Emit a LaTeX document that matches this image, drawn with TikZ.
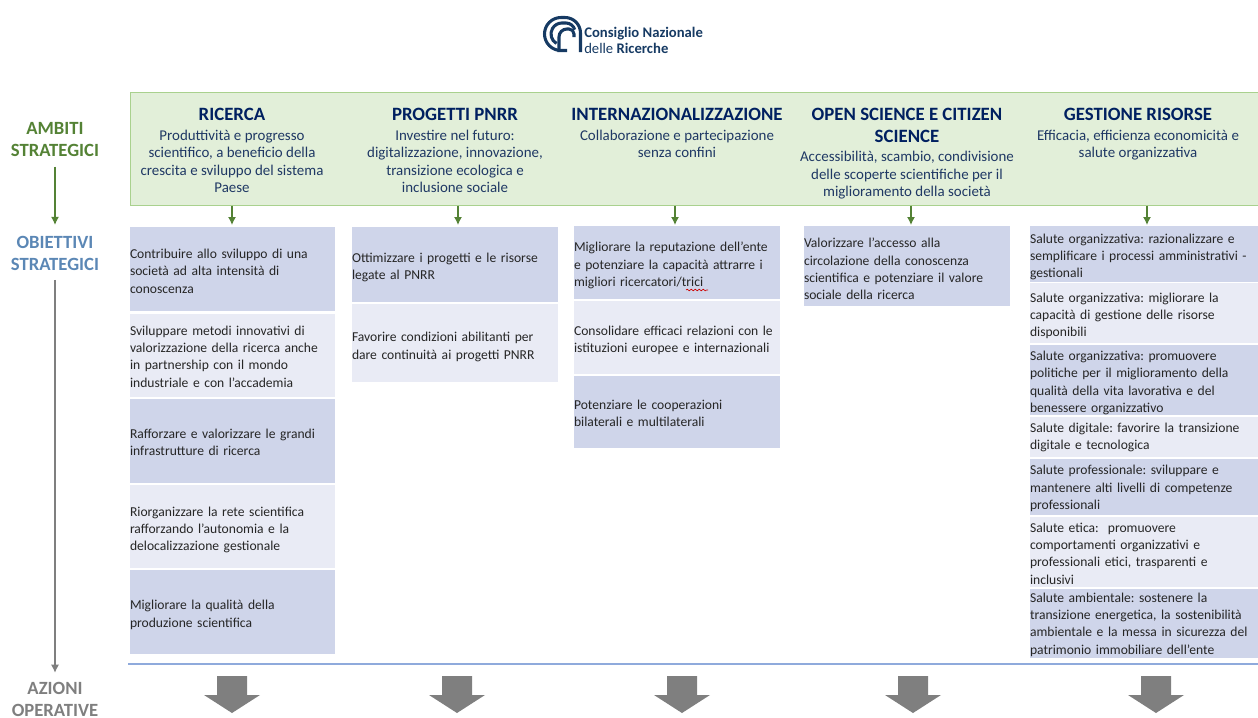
\documentclass[tikz,border=0pt]{standalone}
\usepackage{fontspec}
\setmainfont{Carlito}
\usetikzlibrary{decorations.pathmorphing,arrows.meta}
\definecolor{hdrfill}{HTML}{E2EFD9}
\definecolor{hdrline}{HTML}{A9D18E}
\definecolor{darkcell}{HTML}{CFD5EA}
\definecolor{lightcell}{HTML}{E9EBF5}
\definecolor{navy}{HTML}{002060}
\definecolor{subnavy}{HTML}{1F3864}
\definecolor{cnr}{HTML}{163A63}
\definecolor{gr}{HTML}{548235}
\definecolor{bl}{HTML}{5B87B5}
\definecolor{gy}{HTML}{7F7F7F}
\definecolor{rulecol}{HTML}{8FAADC}
\definecolor{celltext}{HTML}{262626}
\colorlet{dcellc}{darkcell}
\colorlet{lcellc}{lightcell}
\frenchspacing
\tikzset{
  x=0.75pt,y=-0.75pt,
  cell/.style={anchor=north west,inner xsep=0pt,inner ysep=0pt,outer sep=0pt,align=left,
     text=celltext,font=\fontsize{10.2}{13}\selectfont},
  head/.style={anchor=north,inner sep=0pt,align=center,text=subnavy,font=\fontsize{11.2}{13.2}\selectfont},
  side/.style={inner sep=0pt,align=center,font=\fontsize{14}{16.5}\selectfont\bfseries},
  garrow/.style={draw=gr,line width=0.9pt,-{Latex[length=6pt,width=6pt]}},
  gyarrow/.style={draw=gy,line width=0.8pt,-{Latex[length=6pt,width=6pt]}},
  bigarrow/.style={fill=gy,draw=none},
  logoarc/.style={draw=cnr,line width=2.3pt},
}
\newcommand{\ttl}[1]{{\fontsize{14.1}{13.2}\selectfont\bfseries\color{navy}#1}}
% box: text shift, name, tone, x0, y0, x1, y1, text
\newcommand{\cellbox}[8][2]{%
  \path[fill=#3cellc] (#4,#5) rectangle (#6,#7);
  \node[cell,text width=(#6-#4)*0.75pt] (#2) at (#4,{(#5+#7)/2+#1}) [anchor=west] {#8};}
\begin{document}
\begin{tikzpicture}
\useasboundingbox (0,0) rectangle (1258,718);
% logo
\draw[logoarc] (580.5,52) -- (580.5,33) arc[start angle=0,end angle=-90,radius=15.5] -- (561,17.5) arc[start angle=270,end angle=90,radius=16.5] -- (567,50.5);
\draw[logoarc] (556.5,43.5) arc[start angle=120,end angle=270,radius=11] -- (566,23) arc[start angle=270,end angle=345,radius=9];
\draw[logoarc] (559,52) -- (559,37) arc[start angle=180,end angle=270,radius=8] -- (569,29) arc[start angle=270,end angle=360,radius=5] -- (574,37);
\node[anchor=west,inner sep=0pt,align=left,text=cnr,font=\fontsize{11}{11.4}\selectfont] (logotext) at (584,40.5)
  {\textbf{Consiglio Nazionale}\\delle \textbf{Ricerche}};
% header band
\node[draw=hdrline,fill=hdrfill,line width=1pt,anchor=north west,inner sep=0pt,minimum width=1128*0.75pt,minimum height=113*0.75pt] (hdr) at (130,92) {};
\node[head] (h1) at (232,108) {\ttl{RICERCA}\\[1.5pt]Produttività e progresso\\scientifico, a beneficio della\\crescita e sviluppo del sistema\\Paese};
\node[head] (h2) at (455,108) {\ttl{PROGETTI PNRR}\\[1.5pt]Investire nel futuro:\\digitalizzazione, innovazione,\\transizione ecologica e\\inclusione sociale};
\node[head] (h3) at (677,108) {\ttl{INTERNAZIONALIZZAZIONE}\\[1.5pt]Collaborazione e partecipazione\\senza confini};
\node[head] (h4) at (907,108) {\ttl{OPEN SCIENCE E CITIZEN}\\[3pt]\ttl{SCIENCE}\\[1.5pt]Accessibilità, scambio, condivisione\\delle scoperte scientifiche per il\\miglioramento della società};
\node[head] (h5) at (1138,108) {\ttl{GESTIONE RISORSE}\\[1.5pt]Efficacia, efficienza economicità e\\salute organizzativa};
% side labels
\node[side,text=gr] (ambiti) at (55,140) {AMBITI\\STRATEGICI};
\node[side,text=bl] (obiettivi) at (55,253) {OBIETTIVI\\STRATEGICI};
\node[side,text=gy] (azioni) at (55,699.5) {AZIONI\\OPERATIVE};
\draw[garrow] ([yshift=-7pt]ambiti.south) -- ([yshift=8pt]obiettivi.north);
\draw[gyarrow] ([yshift=-7pt]obiettivi.south) -- ([yshift=7pt]azioni.north);
% column 1
\cellbox{a1}{d}{130}{227}{335}{311}{Contribuire allo sviluppo di una\\società ad alta intensità di\\conoscenza}
\cellbox[1]{a2}{l}{130}{314}{335}{397}{Sviluppare metodi innovativi di\\valorizzazione della ricerca anche\\in partnership con il mondo\\industriale e con l'accademia}
\cellbox[1]{a3}{d}{130}{399}{335}{483}{Rafforzare e valorizzare le grandi\\infrastrutture di ricerca}
\cellbox[3.5]{a4}{l}{130}{485}{335}{568}{Riorganizzare la rete scientifica\\rafforzando l'autonomia e la\\delocalizzazione gestionale}
\cellbox[3]{a5}{d}{130}{570}{335}{654}{Migliorare la qualità della\\produzione scientifica}
% column 2
\cellbox[3]{b1}{d}{352}{227}{558}{302}{Ottimizzare i progetti e le risorse\\legate al PNRR}
\cellbox[4]{b2}{l}{352}{304}{558}{382}{Favorire condizioni abilitanti per\\dare continuità ai progetti PNRR}
% column 3
\cellbox[3]{c1}{d}{574}{226}{780}{299}{Migliorare la reputazione dell'ente\\e potenziare la capacità attrarre i\\migliori ricercatori/trici}
\cellbox[3]{c2}{l}{574}{301}{780}{374}{Consolidare efficaci relazioni con le\\istituzioni europee e internazionali}
\cellbox[1]{c3}{d}{574}{376}{780}{448}{Potenziare le cooperazioni\\bilaterali e multilaterali}
\coordinate (wavea) at (686,290);
\coordinate (waveb) at (708,290);
\draw[red!80!black,line width=0.5pt,decorate,decoration={snake,amplitude=0.6pt,segment length=3pt}] (wavea) -- (waveb);
% column 4
\cellbox[3]{d1}{d}{804}{226}{1010}{306}{Valorizzare l'accesso alla\\circolazione della conoscenza\\scientifica e potenziare il valore\\sociale della ricerca}
% column 5
\cellbox[3]{e1}{d}{1030}{226}{1258}{282}{Salute organizzativa: razionalizzare e\\semplificare i processi amministrativi -\\gestionali}
\cellbox[3]{e2}{l}{1030}{283}{1258}{343}{Salute organizzativa: migliorare la\\capacità di gestione delle risorse\\disponibili}
\cellbox[3]{e3}{d}{1030}{345}{1258}{415}{Salute organizzativa: promuovere\\politiche per il miglioramento della\\qualità della vita lavorativa e del\\benessere organizzativo}
\cellbox[0.5]{e4}{l}{1030}{417}{1258}{457}{Salute digitale: favorire la transizione\\digitale e tecnologica}
\cellbox[1.5]{e5}{d}{1030}{459}{1258}{515}{Salute professionale: sviluppare e\\mantenere alti livelli di competenze\\professionali}
\cellbox[1.5]{e6}{l}{1030}{517}{1258}{587}{Salute etica:\ \ promuovere\\comportamenti organizzativi e\\professionali etici, trasparenti e\\inclusivi}
\cellbox[1]{e7}{d}{1030}{589}{1258}{658}{Salute ambientale: sostenere la\\transizione energetica, la sostenibilità\\ambientale e la messa in sicurezza del\\patrimonio immobiliare dell'ente}
% connectors header -> cells
\coordinate (t1) at (232,205.5); \coordinate (u1) at (232,225);
\coordinate (t2) at (458,205.5); \coordinate (u2) at (458,225);
\coordinate (t3) at (675,205.5); \coordinate (u3) at (675,225);
\coordinate (t4) at (911,205.5); \coordinate (u4) at (911,225);
\coordinate (t5) at (1147,205.5); \coordinate (u5) at (1147,225);
\foreach \i in {1,...,5} \draw[garrow] (t\i) -- (u\i);
% rule
\coordinate (rulea) at (128,664); \coordinate (ruleb) at (1258,664);
\draw[rulecol,line width=1pt] (rulea) -- (ruleb);
% big arrows
\foreach \cx in {232,457,682,913,1156}
  \fill[bigarrow] (\cx-15,676) -- (\cx+15,676) -- (\cx+15,695) -- (\cx+28,695) -- (\cx,713) -- (\cx-28,695) -- (\cx-15,695) -- cycle;
\end{tikzpicture}
\end{document}
